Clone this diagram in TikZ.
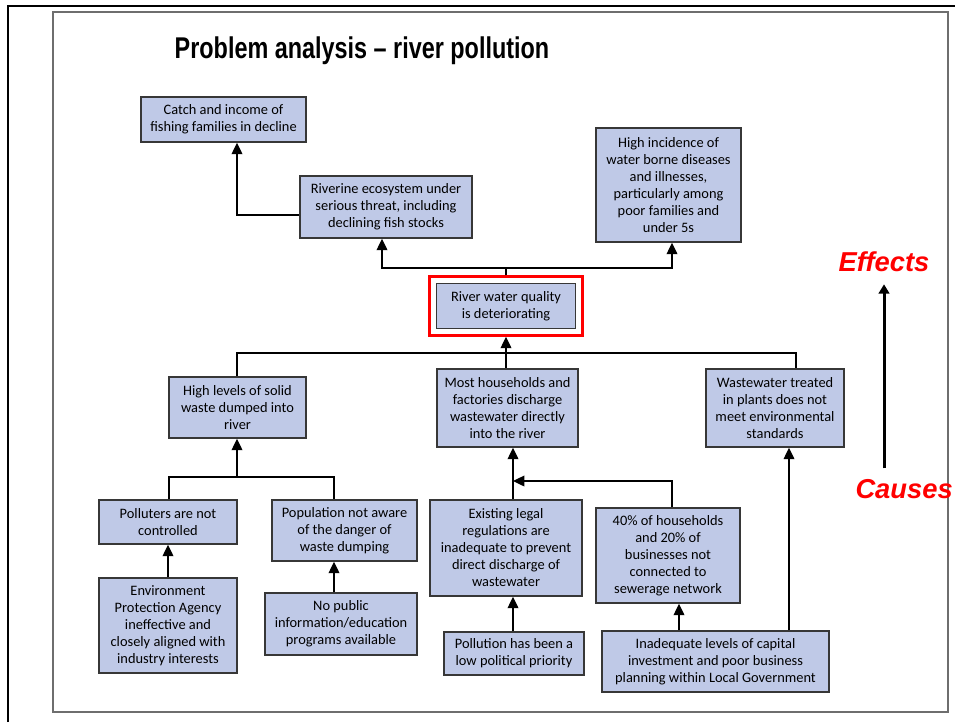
\documentclass[tikz,border=0pt]{standalone}
\usepackage{fontspec}
\setmainfont{Carlito}
\newfontfamily\titlefont[FakeStretch=0.78]{Liberation Sans}
\newfontfamily\labelfont{Liberation Sans}
\usetikzlibrary{arrows.meta,fit}
\newcommand{\px}{0.75pt}
\definecolor{boxfill}{RGB}{191,201,231}
\definecolor{boxline}{RGB}{55,55,55}
\definecolor{framegray}{RGB}{110,110,110}

\begin{document}
\begin{tikzpicture}[x=\px, y=-\px,
    rect/.style 2 args={draw=boxline, fill=boxfill, line width=1.1pt, align=center, inner sep=0pt, minimum width=#1*\px, minimum height=#2*\px, font=\fontsize{10.8}{12.75}\selectfont},
    link/.style={line width=1pt},
    feed/.style={link, -{Triangle[length=8.5pt,width=8pt]}},
    side/.style={text=red, inner sep=0pt, font=\labelfont\bfseries\itshape\fontsize{20.5}{24}\selectfont}]
    \useasboundingbox (0,0) rectangle (955,722);
    \draw[line width=1.5pt] (7.5,722) -- (7.5,5.5) -- (955,5.5);
    \draw[framegray, line width=1.2pt] (53,12) rectangle (948,712);

    \node[anchor=west, font=\titlefont\bfseries\fontsize{22.5}{26}\selectfont] (title) at (170,51) {Problem analysis – river pollution};

    % Effects
    \node[rect={165}{45}] (effect-1) at (223.5,119.5) {Catch and income of\\fishing families in decline};
    \node[rect={172}{62}] (effect-2) at (386,207) {Riverine ecosystem under\\serious threat, including\\declining fish stocks};
    \node[rect={145}{114}] (effect-3) at (668.5,185) {High incidence of\\water borne diseases\\and illnesses,\\particularly among\\poor families and\\under 5s};

    % Core problem
    \node[rect={139}{45}] (problem) at (506,306) {River water quality\\is deteriorating};
    \node[draw=red, line width=2.25pt, inner sep=4.5pt, fit=(problem)] (problem-frame) {};

    % First row of causes
    \node[rect={137}{61}] (cause-1-1) at (237.5,407.5) {High levels of solid\\waste dumped into\\river};
    \node[rect={141}{78}] (cause-1-2) at (507.5,408) {Most households and\\factories discharge\\wastewater directly\\into the river};
    \node[rect={138}{78}] (cause-1-3) at (775,408) {Wastewater treated\\in plants does not\\meet environmental\\standards};

    % Second row
    \node[rect={138}{44}] (cause-2-1) at (168,522) {Polluters are not\\controlled};
    \node[rect={145}{61}] (cause-2-2) at (344.5,530.5) {Population not aware\\of the danger of\\waste dumping};
    \node[rect={152}{96}] (cause-2-3) at (506,548) {Existing legal\\regulations are\\inadequate to prevent\\direct discharge of\\wastewater};
    \node[rect={144}{95}] (cause-2-4) at (668,555.5) {40\% of households\\and 20\% of\\businesses not\\connected to\\sewerage network};

    % Third row
    \node[rect={138}{95}] (cause-3-1) at (168,625.5) {Environment\\Protection Agency\\ineffective and\\closely aligned with\\industry interests};
    \node[rect={152}{62}] (cause-3-2) at (341,624) {No public\\information/education\\programs available};
    \node[rect={140}{43}] (cause-3-3) at (514,653.5) {Pollution has been a\\low political priority};
    \node[rect={227}{61}] (cause-3-4) at (715.5,661.5) {Inadequate levels of capital\\investment and poor business\\planning within Local Government};

    % Side labels
    \node[side] (effects) at (884,262) {Effects};
    \node[side, anchor=east] (causes) at (953,489) {Causes};
    \draw[line width=2.25pt, -{Triangle[length=7pt,width=8pt]}, shorten <=8pt, shorten >=9pt] (effects.south |- causes.north) -- (effects.south);

    % Links above the problem
    \coordinate (bend) at (237,215);
    \coordinate (top-l) at (382,268);
    \coordinate (top-r) at (672,268);
    \draw[feed] (bend -| effect-2.west) -- (bend) -- (bend |- effect-1.south);
    \draw[feed] (problem-frame.north) |- (top-l) -- (top-l |- effect-2.south);
    \draw[feed] (problem-frame.north) |- (top-r) -- (top-r |- effect-3.south);

    % Links below the problem
    \coordinate (mid-l) at (237,353);
    \coordinate (mid-r) at (796,353);
    \draw[link] (mid-l |- cause-1-1.north) -- (mid-l) -- (mid-r) -- (mid-r |- cause-1-3.north);
    \draw[link] (problem-frame.south |- mid-l) -- (problem-frame.south |- cause-1-2.north);
    \draw[feed] (problem-frame.south |- mid-l) -- (problem-frame.south);

    \coordinate (low-l) at (169,477);
    \coordinate (low-r) at (334,477);
    \coordinate (join) at (513,481);
    \draw[link] (low-l |- cause-2-1.north) -- (low-l) -- (low-r) -- (low-r |- cause-2-2.north);
    \draw[feed] (mid-l |- low-l) -- (mid-l |- cause-1-1.south);
    \draw[feed] (join |- cause-2-3.north) -- (join |- cause-1-2.south);
    \draw[feed] ([xshift=3pt]cause-2-4.north) |- (join);

    \coordinate (rise-1) at (679,631);
    \coordinate (rise-2) at (789,631);
    \draw[feed] (cause-3-1.north) -- (cause-3-1.north |- cause-2-1.south);
    \draw[feed] (low-r |- cause-3-2.north) -- (low-r |- cause-2-2.south);
    \draw[feed] (join |- cause-3-3.north) -- (join |- cause-2-3.south);
    \draw[feed] (rise-1 |- cause-3-4.north) -- (rise-1 |- cause-2-4.south);
    \draw[feed] (rise-2 |- cause-3-4.north) -- (rise-2 |- cause-1-3.south);

\end{tikzpicture}
\end{document}
